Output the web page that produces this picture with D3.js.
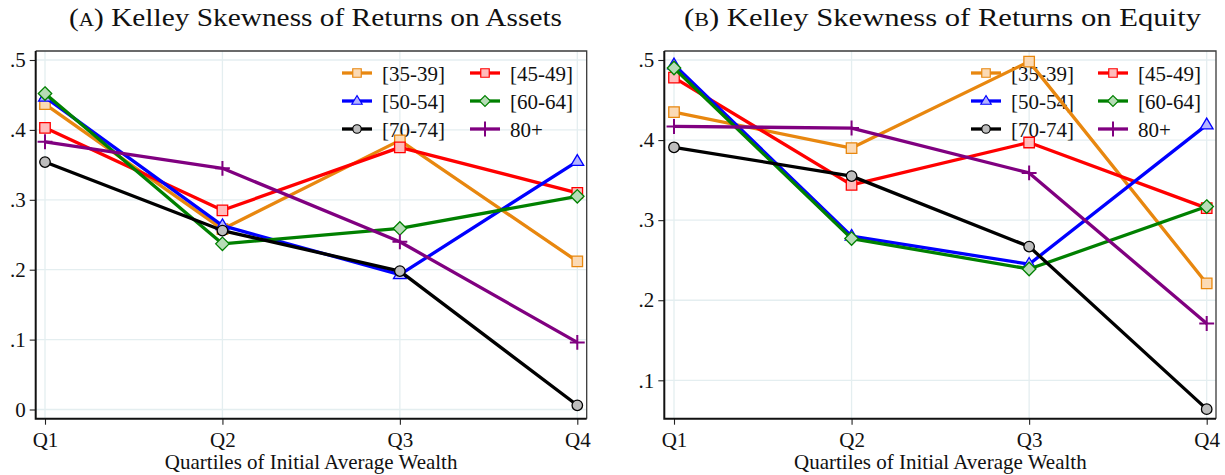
<!DOCTYPE html>
<html>
<head>
<meta charset="utf-8">
<script src="https://cdn.jsdelivr.net/npm/d3@7"></script>
<style>
  html, body { margin: 0; padding: 0; background: #fff; }
  svg { display: block; }
  svg text { font-family: "Liberation Serif", "Times New Roman", serif !important; fill: #111; }
</style>
</head>
<body>
<svg id="chart" width="1225" height="475"></svg>
<script>
// ---------------- DATA ----------------
const quartiles = ["Q1", "Q2", "Q3", "Q4"];
const groups = ["[35-39]", "[45-49]", "[50-54]", "[60-64]", "[70-74]", "80+"];
const xAxisTitle = "Quartiles of Initial Average Wealth";

// Panel A: Kelley skewness of returns on assets
const roa_35_39 = [0.437, 0.258, 0.385, 0.212];
const roa_45_49 = [0.403, 0.285, 0.375, 0.310];
const roa_50_54 = [0.447, 0.263, 0.193, 0.355];
const roa_60_64 = [0.452, 0.237, 0.259, 0.305];
const roa_70_74 = [0.354, 0.256, 0.198, 0.006];
const roa_80p   = [0.383, 0.345, 0.240, 0.096];
const roaTicks  = [0, 0.1, 0.2, 0.3, 0.4, 0.5];

// Panel B: Kelley skewness of returns on equity
const roe_35_39 = [0.435, 0.390, 0.498, 0.221];
const roe_45_49 = [0.478, 0.344, 0.397, 0.315];
const roe_50_54 = [0.494, 0.280, 0.245, 0.419];
const roe_60_64 = [0.490, 0.277, 0.239, 0.317];
const roe_70_74 = [0.391, 0.355, 0.267, 0.064];
const roe_80p   = [0.417, 0.415, 0.359, 0.171];
const roeTicks  = [0.1, 0.2, 0.3, 0.4, 0.5];

// ---------------- STYLE ----------------
const styles = [
  { stroke: "#e8870f", fill: "#fbdab5", shape: "square" },
  { stroke: "#ff0000", fill: "#ffbcbc", shape: "square" },
  { stroke: "#0000ff", fill: "#b4b4ff", shape: "triangle" },
  { stroke: "#008000", fill: "#b6dcb6", shape: "diamond" },
  { stroke: "#000000", fill: "#bdbdbd", shape: "circle" },
  { stroke: "#800080", fill: "none", shape: "plus" }
];

function shapePath(shape, s) {
  const p = d3.path();
  const h = s / 2;
  if (shape === "square") { p.rect(-h, -h, s, s); }
  else if (shape === "triangle") {
    const r = s * 0.64;
    p.moveTo(0, -r); p.lineTo(r * 0.95, r * 0.6); p.lineTo(-r * 0.95, r * 0.6); p.closePath();
  } else if (shape === "diamond") {
    const r = s * 0.64;
    p.moveTo(0, -r); p.lineTo(r, 0); p.lineTo(0, r); p.lineTo(-r, 0); p.closePath();
  } else if (shape === "circle") { p.arc(0, 0, h, 0, 2 * Math.PI); }
  else if (shape === "plus") {
    const r = s * 0.62;
    p.moveTo(-r, 0); p.lineTo(r, 0); p.moveTo(0, -r); p.lineTo(0, r);
  }
  return p.toString();
}

const fmt = v => v === 0 ? "0" : d3.format(".1f")(v).replace(/^0/, "");
const SERIF = '"Liberation Serif", "Times New Roman", serif';

const svg = d3.select("#chart");

function drawPanel(cfg) {
  const g = svg.append("g");
  const x = d3.scalePoint().domain(quartiles).range(cfg.xRange);
  const y = d3.scaleLinear().domain(cfg.yDomain).range(cfg.yRange);
  const left = cfg.frame.left, right = cfg.frame.right, top = cfg.frame.top, bottom = cfg.frame.bottom;

  // grid
  g.append("g").selectAll("line.h").data(cfg.ticks).join("line")
    .attr("x1", left).attr("x2", right)
    .attr("y1", d => y(d)).attr("y2", d => y(d))
    .attr("stroke", "#e4eef0").attr("stroke-width", 1.3);
  g.append("g").selectAll("line.v").data(quartiles).join("line")
    .attr("x1", d => x(d)).attr("x2", d => x(d))
    .attr("y1", top).attr("y2", bottom)
    .attr("stroke", "#e4eef0").attr("stroke-width", 1.3);

  // frame (top/right)
  g.append("path")
    .attr("d", `M${left},${top}H${right}V${bottom}`)
    .attr("fill", "none").attr("stroke", "#3a3a3a").attr("stroke-width", 1.3);

  // y axis
  const ya = g.append("g").attr("transform", `translate(${left},0)`)
    .call(d3.axisLeft(y).tickValues(cfg.ticks).tickFormat(fmt).tickSize(6).tickPadding(4));
  ya.attr("font-family", SERIF).attr("font-size", null);
  ya.select(".domain").remove();
  ya.selectAll(".tick line").attr("stroke", "#222").attr("stroke-width", 1.1);
  ya.selectAll(".tick text").attr("font-family", SERIF).style("font-size", "21px").attr("fill", "#111");

  // x axis
  const xa = g.append("g").attr("transform", `translate(0,${bottom})`)
    .call(d3.axisBottom(x).tickSize(6).tickPadding(7));
  xa.attr("font-family", SERIF).attr("font-size", null);
  xa.select(".domain").remove();
  xa.selectAll(".tick line").attr("stroke", "#222").attr("stroke-width", 1.1);
  xa.selectAll(".tick text").attr("font-family", SERIF).style("font-size", "21px").attr("fill", "#111");

  // axis lines
  g.append("path")
    .attr("d", `M${left},${top}V${bottom}H${right}`)
    .attr("fill", "none").attr("stroke", "#111").attr("stroke-width", 2);

  // x axis title
  g.append("text")
    .attr("x", (cfg.xRange[0] + cfg.xRange[1]) / 2).attr("y", 469)
    .attr("text-anchor", "middle").attr("font-family", SERIF).style("font-size", "21px")
    .text(xAxisTitle);

  // panel title
  const t = g.append("text")
    .attr("x", cfg.titleX).attr("y", 26)
    .attr("text-anchor", "start").attr("font-family", SERIF).style("font-size", "25px")
    .attr("textLength", cfg.titleLen).attr("lengthAdjust", "spacingAndGlyphs");
  t.append("tspan").text("(");
  t.append("tspan").style("font-size", "18px").text(cfg.letter);
  t.append("tspan").text(") " + cfg.title);

  // legend
  const lg = g.append("g");
  groups.forEach((name, i) => {
    const col = i % 2, row = Math.floor(i / 2);
    const lx = cfg.legend.x[col], ly = cfg.legend.y[row];
    const st = styles[i];
    const item = lg.append("g").attr("transform", `translate(${lx},${ly})`);
    item.append("line").attr("x1", 0).attr("x2", 30).attr("y1", 0).attr("y2", 0)
      .attr("stroke", st.stroke).attr("stroke-width", 3.3);
    item.append("path").attr("transform", "translate(15,0)")
      .attr("d", shapePath(st.shape, st.shape === "plus" ? 12 : 8.5))
      .attr("fill", st.fill).attr("stroke", st.stroke)
      .attr("stroke-width", st.shape === "plus" ? 2 : 1.2);
    item.append("text").attr("x", 40).attr("y", 7.5)
      .attr("font-family", SERIF).style("font-size", "21px").text(name);
  });

  // series
  const line = d3.line().x((d, i) => x(quartiles[i])).y(d => y(d));
  cfg.series.forEach((vals, i) => {
    const st = styles[i];
    const sg = g.append("g");
    sg.append("path").datum(vals).attr("d", line)
      .attr("fill", "none").attr("stroke", st.stroke).attr("stroke-width", 3.3)
      .attr("stroke-linejoin", "round");
    sg.selectAll("path.m").data(vals).join("path").attr("class", "m")
      .attr("transform", (d, j) => `translate(${x(quartiles[j])},${y(d)})`)
      .attr("d", shapePath(st.shape, st.shape === "plus" ? 12 : 10.5))
      .attr("fill", st.fill).attr("stroke", st.stroke)
      .attr("stroke-width", st.shape === "plus" ? 2 : 1.3);
  });
}

drawPanel({
  letter: "A", title: "Kelley Skewness of Returns on Assets",
  titleX: 69, titleLen: 493,
  xRange: [45, 577.3],
  yDomain: [0, 0.5], yRange: [409.5, 60],
  ticks: roaTicks,
  frame: { left: 35.7, right: 586.7, top: 51, bottom: 418.7 },
  legend: { x: [342, 470], y: [73, 101, 129] },
  series: [roa_35_39, roa_45_49, roa_50_54, roa_60_64, roa_70_74, roa_80p]
});

drawPanel({
  letter: "B", title: "Kelley Skewness of Returns on Equity",
  titleX: 684, titleLen: 517,
  xRange: [674, 1206.7],
  yDomain: [0.1, 0.5], yRange: [380.3, 60],
  ticks: roeTicks,
  frame: { left: 664.3, right: 1216, top: 51, bottom: 418.7 },
  legend: { x: [971, 1098], y: [73, 101, 129] },
  series: [roe_35_39, roe_45_49, roe_50_54, roe_60_64, roe_70_74, roe_80p]
});
</script>
</body>
</html>
